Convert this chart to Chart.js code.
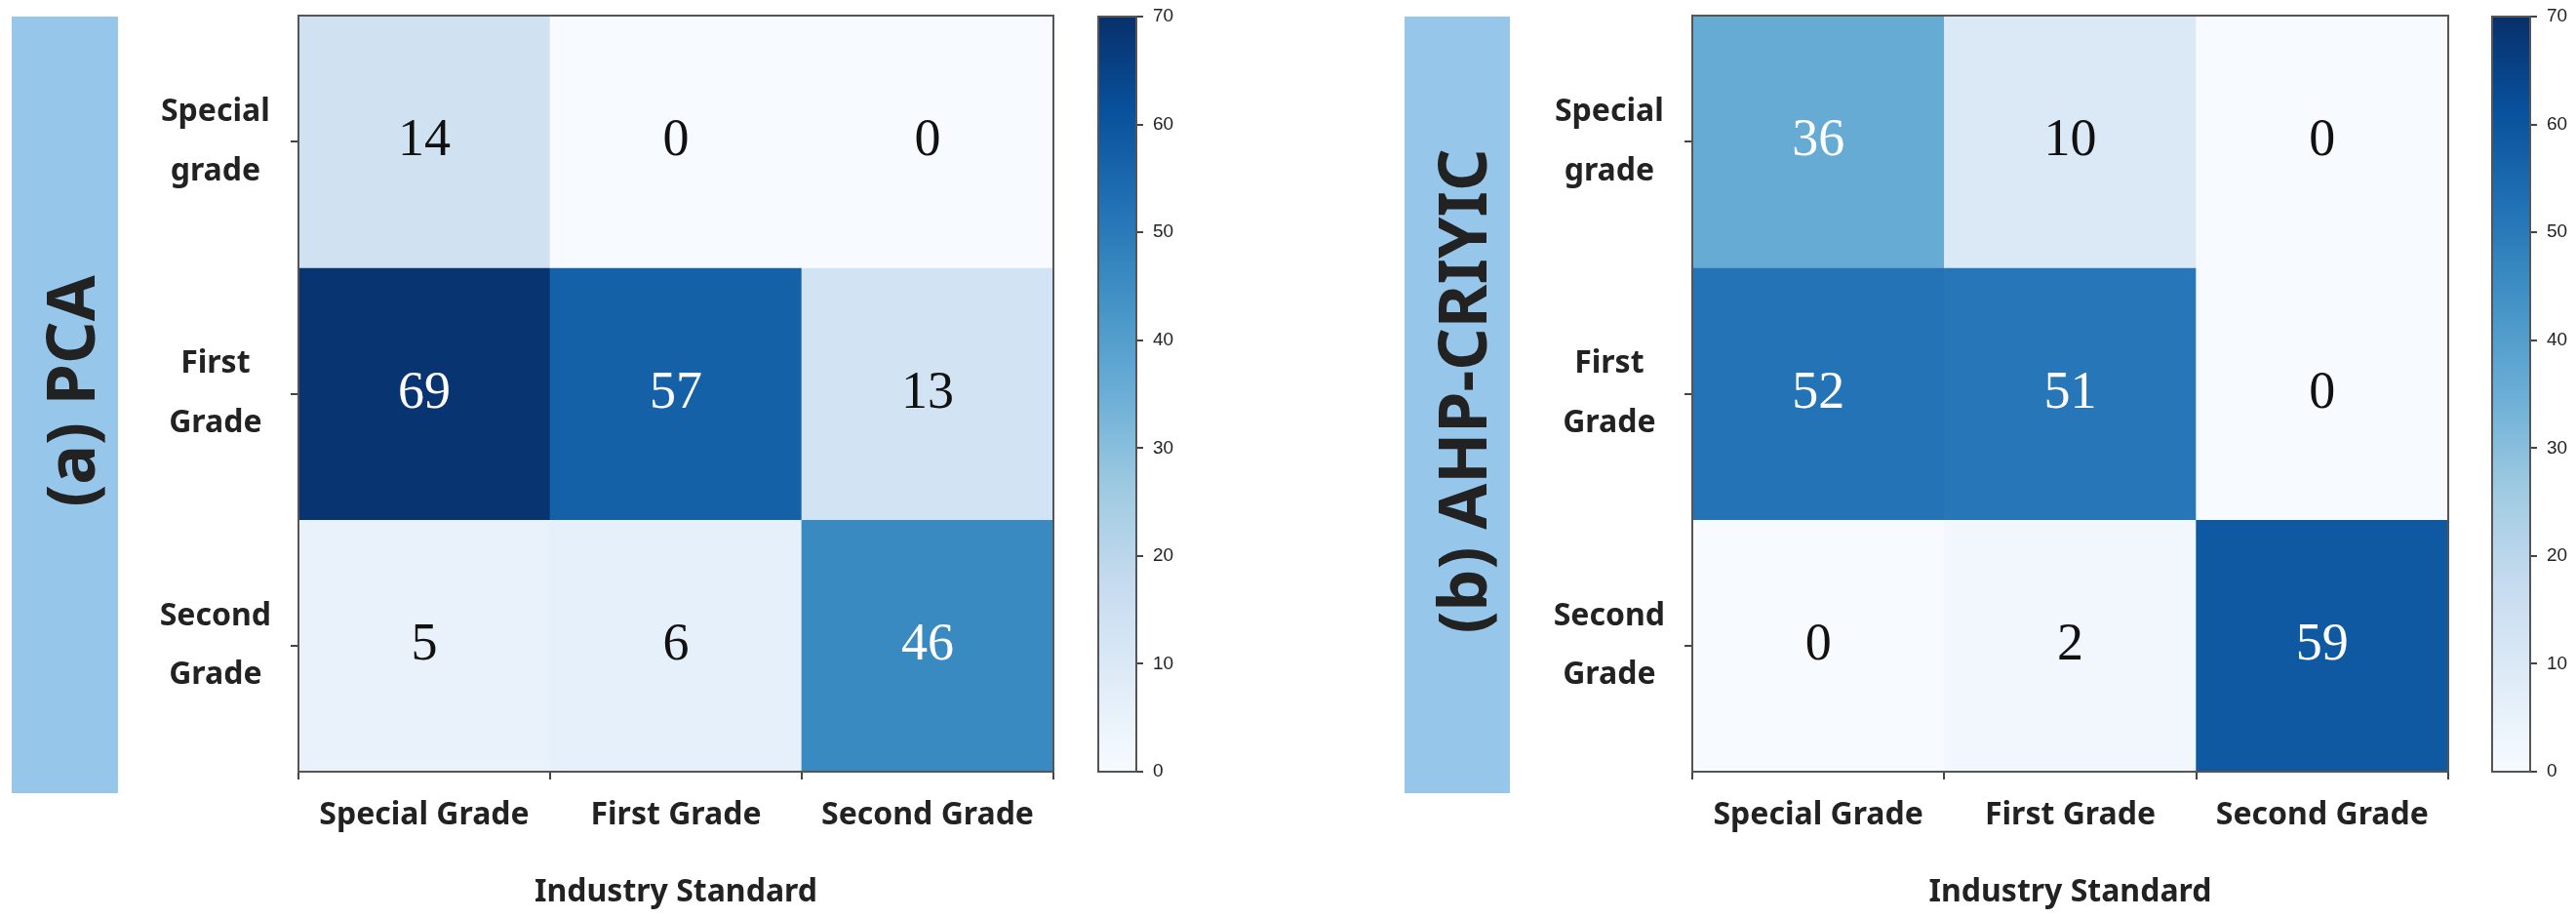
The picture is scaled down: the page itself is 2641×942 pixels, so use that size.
<!DOCTYPE html>
<html>
<head>
<meta charset="utf-8">
<script src="https://cdn.jsdelivr.net/npm/chart.js"></script>
<style>
  html,body{margin:0;padding:0;background:#fff;}
  #wrap{position:relative;width:2641px;height:942px;overflow:hidden;}
  canvas{position:absolute;top:0;}
  .tag{position:absolute;top:17px;height:796px;background:#96c7eb;}
  .tag span{position:absolute;white-space:nowrap;font-family:"Noto Sans",sans-serif;font-weight:700;font-size:68px;line-height:1;color:#222;transform:translate(-50%,-50%) rotate(-90deg);}
</style>
</head>
<body>
<div id="wrap">
  <div class="tag" style="left:12px;width:109px"><span id="tagA" style="left:59px;top:384px"></span></div>
  <div class="tag" style="left:1440px;width:108px"><span id="tagB" style="left:58px;top:384px"></span></div>
  <canvas id="heatA" width="970" height="942" style="left:130px"></canvas>
  <canvas id="barA" width="130" height="942" style="left:1110px"></canvas>
  <canvas id="heatB" width="970" height="942" style="left:1560px"></canvas>
  <canvas id="barB" width="101" height="942" style="left:2540px"></canvas>
</div>
<script>
// data
const colLabels = ['Special Grade','First Grade','Second Grade'];
const rowLabels = [['Special','grade'],['First','Grade'],['Second','Grade']];
const pcaValues = [[14,0,0],[69,57,13],[5,6,46]];
const ahpValues = [[36,10,0],[52,51,0],[0,2,59]];
const panelTitles = ['(a) PCA','(b) AHP-CRIYIC'];
const axisTitle = 'Industry Standard';
const cbarMin = 0, cbarMax = 70, cbarStep = 10;
// matplotlib "Blues"
const blues = ['#f7fbff','#deebf7','#c6dbef','#9ecae1','#6baed6','#4292c6','#2171b5','#08519c','#08306b'];

const $ = (s)=>document.querySelector(s);
function hex(c){return [1,3,5].map(i=>parseInt(c.slice(i,i+2),16));}
function blue(v){
  const t = Math.max(0,Math.min(1,(v-cbarMin)/(cbarMax-cbarMin)))*(blues.length-1);
  const i = Math.min(blues.length-2,Math.floor(t)), f = t-i;
  const a = hex(blues[i]), b = hex(blues[i+1]);
  return 'rgb('+a.map((x,k)=>Math.round(x+(b[k]-x)*f)).join(',')+')';
}

const frame = {id:'frame',afterDraw(c){
  const a=c.chartArea, g=c.ctx; g.save(); g.strokeStyle='#555'; g.lineWidth=2;
  g.strokeRect(a.left,a.top,a.right-a.left,a.bottom-a.top); g.restore();
}};
const cellText = {id:'cellText',afterDatasetsDraw(c){
  const g=c.ctx; g.save(); g.font='54px "Liberation Serif", serif'; g.textAlign='center'; g.textBaseline='middle';
  c.data.datasets.forEach((ds,r)=>{
    c.getDatasetMeta(r).data.forEach((el,k)=>{
      const v = ds.values[k], p = el.getCenterPoint();
      g.fillStyle = v > (cbarMax-cbarMin)/2 ? '#fff' : '#111';
      g.fillText(String(v),p.x,p.y);
    });
  });
  g.restore();
}};

const lblFont = {family:'"Noto Sans", sans-serif',weight:'bold',size:32};

function heatmap(id, values, yWidth){
  return new Chart($(id),{
    type:'bar',
    data:{labels:colLabels,datasets:values.map((row,r)=>({
      data:row.map(()=>[r-0.5,r+0.5]),
      values:row,
      backgroundColor:row.map(blue),
      borderWidth:0,grouped:false,barPercentage:1,categoryPercentage:1
    }))},
    options:{
      responsive:false,animation:false,devicePixelRatio:1,
      layout:{padding:{top:16,right:20,bottom:0,left:0}},
      plugins:{legend:{display:false},tooltip:{enabled:false}},
      scales:{
        x:{grid:{drawOnChartArea:false,tickLength:8,color:'#444',lineWidth:2},border:{display:false},
           ticks:{font:lblFont,color:'#222',padding:18},
           title:{display:true,text:axisTitle,font:lblFont,color:'#222',padding:{top:0,bottom:8}},
           afterFit:s=>{s.height=151;s.paddingLeft=0;s.paddingRight=0;}},
        y:{min:-0.5,max:2.5,reverse:true,
           grid:{drawOnChartArea:false,tickLength:8,color:'#444',lineWidth:2},border:{display:false},
           afterBuildTicks:s=>{s.ticks=rowLabels.map((_,i)=>({value:i}));},
           ticks:{font:Object.assign({},lblFont,{lineHeight:1.9}),color:'#222',padding:20,crossAlign:'center',
                  callback:v=>rowLabels[v]},
           afterFit:s=>{s.width=yWidth;s.paddingTop=0;s.paddingBottom=0;}}
      }
    },
    plugins:[cellText,frame]
  });
}

function colorbar(id, padLeft, axisWidth){
  return new Chart($(id),{
    type:'bar',
    data:{labels:[''],datasets:[{data:[[cbarMin,cbarMax]],borderWidth:0,barPercentage:1,categoryPercentage:1,
      backgroundColor:(ctx)=>{
        const a=ctx.chart.chartArea; if(!a) return blues[4];
        const gr=ctx.chart.ctx.createLinearGradient(0,a.bottom,0,a.top);
        blues.forEach((c,i)=>gr.addColorStop(i/(blues.length-1),c));
        return gr;
      }}]},
    options:{
      responsive:false,animation:false,devicePixelRatio:1,
      layout:{padding:{top:17,right:0,bottom:151,left:padLeft}},
      plugins:{legend:{display:false},tooltip:{enabled:false}},
      scales:{
        x:{display:false},
        y:{position:'right',min:cbarMin,max:cbarMax,
           grid:{drawOnChartArea:false,tickLength:7,color:'#444',lineWidth:2},border:{display:false},
           ticks:{stepSize:cbarStep,padding:10,color:'#222',font:{family:'"Liberation Sans", sans-serif',size:19}},
           afterFit:s=>{s.width=axisWidth;s.paddingTop=0;s.paddingBottom=0;}}
      }
    },
    plugins:[frame]
  });
}

$('#tagA').textContent = panelTitles[0];
$('#tagB').textContent = panelTitles[1];
heatmap('#heatA', pcaValues, 176);
colorbar('#barA', 16, 75);
heatmap('#heatB', ahpValues, 175);
colorbar('#barB', 15, 47);
</script>
</body>
</html>
